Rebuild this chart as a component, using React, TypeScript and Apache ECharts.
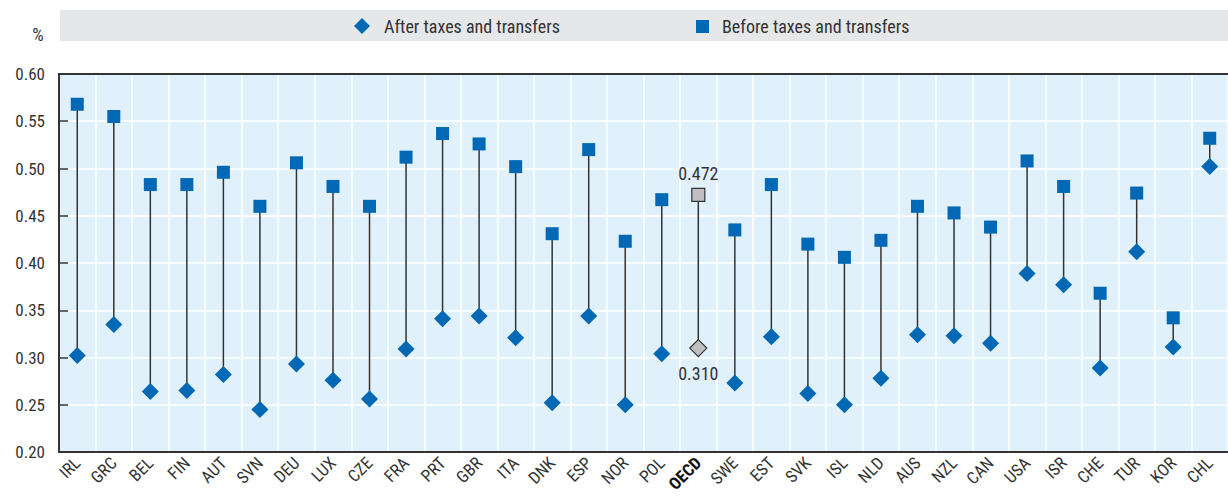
import React, { useEffect, useRef } from "react";
import * as echarts from "echarts";

const categories = ["IRL","GRC","BEL","FIN","AUT","SVN","DEU","LUX","CZE","FRA","PRT","GBR","ITA","DNK","ESP","NOR","POL","OECD","SWE","EST","SVK","ISL","NLD","AUS","NZL","CAN","USA","ISR","CHE","TUR","KOR","CHL"];
const beforeValues = [0.568,0.555,0.483,0.483,0.496,0.460,0.506,0.481,0.460,0.512,0.537,0.526,0.502,0.431,0.520,0.423,0.467,0.472,0.435,0.483,0.420,0.406,0.424,0.460,0.453,0.438,0.508,0.481,0.368,0.474,0.342,0.532];
const afterValues = [0.302,0.335,0.264,0.265,0.282,0.245,0.293,0.276,0.256,0.309,0.341,0.344,0.321,0.252,0.344,0.250,0.304,0.310,0.273,0.322,0.262,0.250,0.278,0.324,0.323,0.315,0.389,0.377,0.289,0.412,0.311,0.502];
const seriesNames = ["After taxes and transfers", "Before taxes and transfers"];
const highlight = "OECD";

const FONT = "'Liberation Sans Narrow', 'Arial Narrow', 'Roboto Condensed', Roboto, sans-serif";
const BLUE = "#0068b5";
const TXT = "#333333";

export default function App() {
  const ref = useRef<HTMLDivElement>(null);
  useEffect(() => {
    if (!ref.current) return;
    const chart = echarts.init(ref.current, null, { renderer: "svg" });
    const mk = (vals: number[], pos: "top" | "bottom") =>
      vals.map((v, i) =>
        categories[i] === highlight
          ? {
              value: v,
              itemStyle: { color: "#c0c0c2", borderColor: "#333", borderWidth: 1.2 },
              label: {
                show: true,
                position: pos,
                distance: pos === "top" ? 5 : 7,
                formatter: (p: any) => p.value.toFixed(3),
                fontFamily: FONT,
                fontSize: 18,
                color: TXT,
              },
            }
          : v
      );
    chart.setOption({
      animation: false,
      textStyle: { fontFamily: FONT },
      grid: {
        left: 59,
        right: -13,
        top: 74,
        bottom: 48,
        show: true,
        backgroundColor: "#e0f1fb",
        borderWidth: 0,
      },
      graphic: [
        { type: "rect", shape: { x: 60, y: 10, width: 1168, height: 31 }, style: { fill: "#e6e7e8" }, silent: true },
        { type: "polygon", shape: { points: [[362, 18], [370, 26], [362, 34], [354, 26]] }, style: { fill: BLUE } },
        { type: "text", x: 384, y: 26, style: { text: seriesNames[0], fontFamily: FONT, fontSize: 18, fill: TXT, verticalAlign: "middle" } },
        { type: "rect", shape: { x: 696, y: 20, width: 13, height: 13 }, style: { fill: BLUE } },
        { type: "text", x: 722, y: 26, style: { text: seriesNames[1], fontFamily: FONT, fontSize: 18, fill: TXT, verticalAlign: "middle" } },
        { type: "text", x: 38, y: 34, style: { text: "%", fontFamily: FONT, fontSize: 18, fill: TXT, align: "center", verticalAlign: "middle" } },
      ],
      xAxis: [
        {
          type: "category",
          data: categories,
          boundaryGap: true,
          axisLine: { lineStyle: { color: "#333", width: 2 } },
          axisTick: { inside: true, length: 6, lineStyle: { color: "#333", width: 1.5 } },
          splitLine: { show: true, lineStyle: { color: "#ffffff", width: 1.5 } },
          axisLabel: {
            rotate: 45,
            margin: 8,
            interval: 0,
            fontFamily: FONT,
            fontSize: 17,
            color: TXT,
            formatter: (v: string) => (v === highlight ? `{b|${v}}` : v),
            rich: { b: { fontWeight: "bold", fontFamily: FONT, fontSize: 17, color: "#111" } },
          },
        },
        {
          type: "category",
          data: categories,
          position: "top",
          axisLine: { lineStyle: { color: "#333", width: 2 } },
          axisTick: { show: false },
          axisLabel: { show: false },
        },
      ],
      yAxis: {
        type: "value",
        min: 0.2,
        max: 0.6,
        interval: 0.05,
        axisLine: { show: true, lineStyle: { color: "#333", width: 2 } },
        axisTick: { show: true, inside: true, length: 9, lineStyle: { color: "#333", width: 1.5 } },
        splitLine: { show: true, lineStyle: { color: "#ffffff", width: 1.5 } },
        axisLabel: {
          margin: 14,
          fontFamily: FONT,
          fontSize: 17,
          color: TXT,
          formatter: (v: number) => v.toFixed(2),
        },
      },
      series: [
        {
          type: "custom",
          name: "range",
          data: categories.map((_, i) => [i, beforeValues[i], afterValues[i]]),
          encode: { x: 0, y: [1, 2] },
          renderItem: (params: any, api: any) => {
            const p1 = api.coord([api.value(0), api.value(1)]);
            const p2 = api.coord([api.value(0), api.value(2)]);
            return {
              type: "line",
              shape: { x1: p1[0], y1: p1[1], x2: p2[0], y2: p2[1] },
              style: { stroke: "#333", lineWidth: 1.5 },
            };
          },
          z: 1,
          silent: true,
        },
        {
          type: "scatter",
          name: seriesNames[0],
          symbol: "diamond",
          symbolSize: 17,
          itemStyle: { color: BLUE, opacity: 1 },
          data: mk(afterValues, "bottom"),
          z: 3,
        },
        {
          type: "scatter",
          name: seriesNames[1],
          symbol: "rect",
          symbolSize: 13,
          itemStyle: { color: BLUE, opacity: 1 },
          data: mk(beforeValues, "top"),
          z: 3,
        },
      ],
    });
    return () => chart.dispose();
  }, []);
  return (
    <div
      ref={ref}
      style={{ position: "absolute", left: 0, top: 0, width: 1228, height: 500, overflow: "hidden" }}
    />
  );
}
